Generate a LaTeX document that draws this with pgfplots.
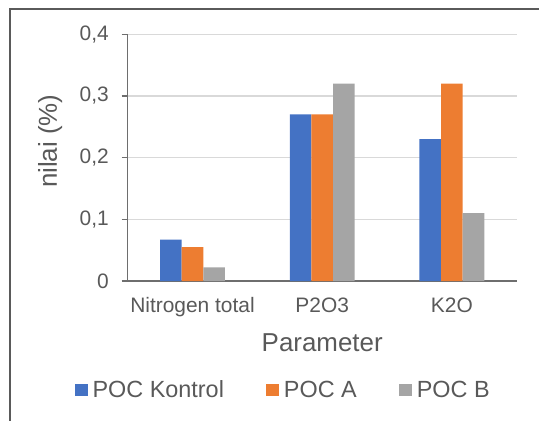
\documentclass[border=0pt]{standalone}
\usepackage{fontspec}
\setmainfont{Liberation Sans}
\usepackage{pgfplots}
\pgfplotsset{compat=1.18}
\definecolor{cK}{HTML}{4472C4}
\definecolor{cA}{HTML}{ED7D31}
\definecolor{cB}{HTML}{A5A5A5}
\definecolor{txt}{HTML}{595959}
\definecolor{axc}{HTML}{6E6E6E}
\definecolor{grd}{HTML}{D9D9D9}
\definecolor{frm}{HTML}{5A5A5A}
\begin{document}
\begin{tikzpicture}
\useasboundingbox (-127.7bp,-140bp) rectangle (411.3bp,281bp);
\draw[frm, line width=1.3bp] (-117.7bp,-142bp) -- (-117.7bp,272bp) -- (413bp,272bp);
\begin{axis}[
  at={(0,0)}, anchor=south west,
  scale only axis, width=389bp, height=246.7bp,
  xmin=-0.5, xmax=2.5, ymin=0, ymax=0.4,
  axis lines*=left,
  axis line style={draw=axc, line width=1.2bp},
  xtick={0,1,2}, xticklabels={Nitrogen total, P2O3, K2O},
  ytick={0,0.1,0.2,0.3,0.4},
  ymajorgrids, grid style={draw=grd, line width=1.2bp},
  tick align=outside,
  major tick length=6bp,
  xtick style={draw=none},
  ytick style={draw=axc, line width=1.2bp},
  tick label style={font=\fontsize{21}{25}\selectfont, text=txt},
  /pgf/number format/use comma,
  /pgf/number format/fixed,
  /pgf/number format/precision=1,
  /pgf/number format/assume math mode=true,
  yticklabel style={anchor=east, inner sep=0pt, xshift=-12.7bp},
  xticklabel style={anchor=north, inner sep=0pt, yshift=-10.5bp},
  xlabel={Parameter},
  xlabel style={at={(axis description cs:0.5,-0.2838)}, anchor=base, font=\fontsize{26}{30}\selectfont, text=txt, inner sep=0pt},
  ylabel={nilai (\%)},
  ylabel style={at={(axis description cs:-0.199,0.567)}, anchor=center, font=\fontsize{26}{30}\selectfont, text=txt, inner sep=0pt},
  legend columns=3,
  legend style={draw=none, fill=none, at={(axis description cs:0.397,-0.442)}, anchor=center,
    font=\fontsize{23.5}{28}\selectfont, text=txt,
    nodes={inner sep=0pt},
    /tikz/every odd column/.append style={column sep=5bp},
    /tikz/every even column/.append style={column sep=42bp}},
]
\addplot[ybar, fill=cK, draw=none, bar width=0.16667, bar shift=-0.16667,
  legend image code/.code={\fill[cK] (0bp,-6bp) rectangle (13bp,6bp);}]
  coordinates {(0,0.067) (1,0.27) (2,0.23)};
\addlegendentry{POC Kontrol}
\addplot[ybar, fill=cA, draw=none, bar width=0.16667, bar shift=0,
  legend image code/.code={\fill[cA] (0bp,-6bp) rectangle (13bp,6bp);}]
  coordinates {(0,0.055) (1,0.27) (2,0.32)};
\addlegendentry{POC A}
\addplot[ybar, fill=cB, draw=none, bar width=0.16667, bar shift=0.16667,
  legend image code/.code={\fill[cB] (0bp,-6bp) rectangle (13bp,6bp);}]
  coordinates {(0,0.022) (1,0.32) (2,0.11)};
\addlegendentry{POC B}
\end{axis}
\end{tikzpicture}
\end{document}
